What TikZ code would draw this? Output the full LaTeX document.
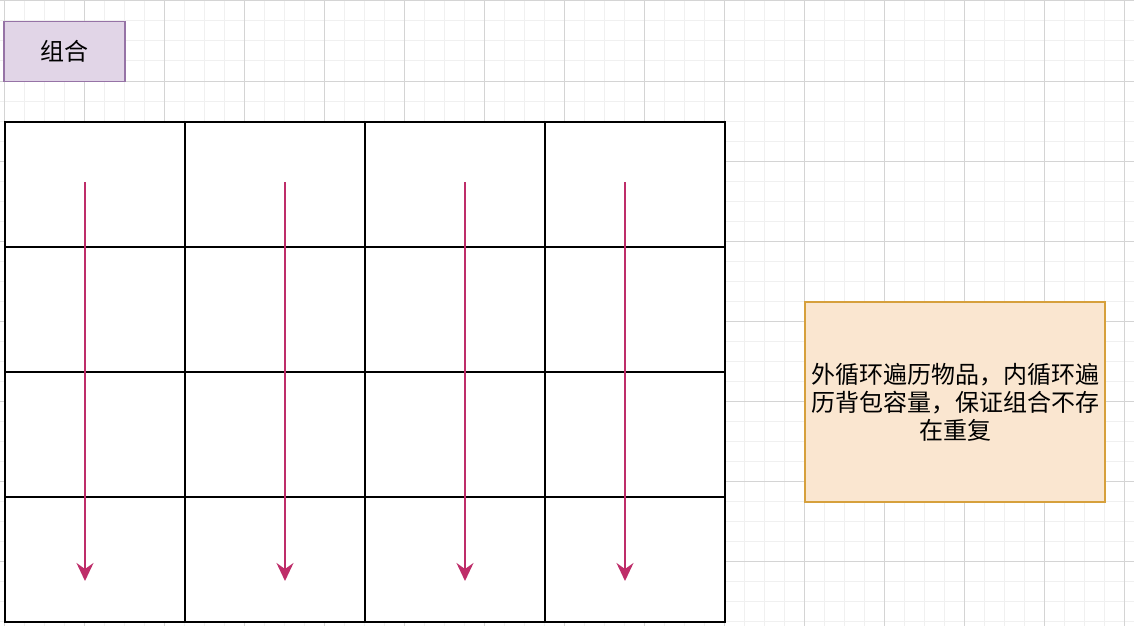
\documentclass[tikz,border=0pt]{standalone}
\usepackage{fontspec}
\newfontfamily\cjk{Noto Sans CJK SC}
\usetikzlibrary{arrows.meta}
\definecolor{gridmajor}{RGB}{212,212,212}
\definecolor{gridminor}{RGB}{240,240,240}
\definecolor{purplefill}{HTML}{E1D5E7}
\definecolor{purpleline}{HTML}{9673A6}
\definecolor{orangefill}{RGB}{250,230,208}
\definecolor{orangeline}{RGB}{214,160,60}
\definecolor{arrowpink}{RGB}{190,45,105}
\tikzset{
  labelbox/.style={draw=purpleline,fill=purplefill,line width=1.5pt,minimum width=121pt,minimum height=60pt,inner sep=0pt,font=\cjk\fontsize{24}{28}\selectfont},
  notebox/.style={draw=orangeline,fill=orangefill,line width=1.5pt,minimum width=300pt,minimum height=200pt,inner sep=0pt,align=center,font=\cjk\fontsize{24}{28}\selectfont},
  cellbox/.style={draw=black,fill=white,line width=1.8pt,minimum width=180pt,minimum height=125pt,inner sep=0pt},
  flowarrow/.style={draw=arrowpink,line width=1.8pt,-{Stealth[length=18pt,width=17pt,inset=6pt]}}
}
\begin{document}
\begin{tikzpicture}[x=1pt,y=-1pt]
\useasboundingbox (0,0) rectangle (1134,626);
\fill[white] (0,0) rectangle (1134,626);
% minor grid
\foreach \gx in {4,24,...,1134} \draw[gridminor,line width=1pt] (\gx,0) -- (\gx,626);
\foreach \gy in {1,21,...,626} \draw[gridminor,line width=1pt] (0,\gy) -- (1134,\gy);
% major grid
\foreach \gx in {4,84,...,1134} \draw[gridmajor,line width=1pt] (\gx,0) -- (\gx,626);
\foreach \gy in {1,81,...,626} \draw[gridmajor,line width=1pt] (0,\gy) -- (1134,\gy);

\node[labelbox] (title) at (64.5,51.5) {组合};

% table cells
\foreach \c [count=\ci] in {0,1,2,3}{
  \foreach \r [count=\ri] in {0,1,2,3}{
    \node[cellbox] (cell-\ri-\ci) at ({95+180*\c},{184.5+125*\r}) {};
  }
}

% arrows
\coordinate (a1s) at (85,182);  \coordinate (a1e) at (85,581);
\coordinate (a2s) at (285,182); \coordinate (a2e) at (285,581);
\coordinate (a3s) at (465,182); \coordinate (a3e) at (465,581);
\coordinate (a4s) at (625,182); \coordinate (a4e) at (625,581);
\draw[flowarrow] (a1s) -- (a1e);
\draw[flowarrow] (a2s) -- (a2e);
\draw[flowarrow] (a3s) -- (a3e);
\draw[flowarrow] (a4s) -- (a4e);

\node[notebox] (note) at (955,402) {外循环遍历物品，内循环遍\\历背包容量，保证组合不存\\在重复};
\end{tikzpicture}
\end{document}
